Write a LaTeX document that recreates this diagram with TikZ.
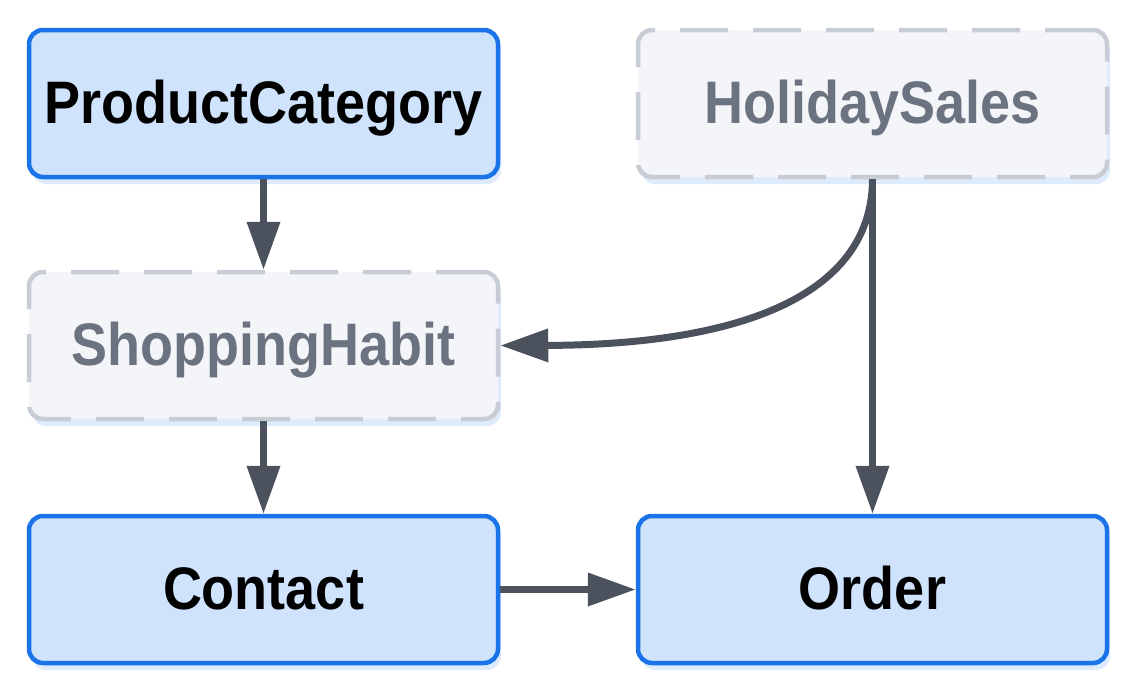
\documentclass[tikz,border=0pt]{standalone}
\usepackage{fontspec}
\setmainfont[FakeStretch=0.9]{Liberation Sans}
\usetikzlibrary{arrows.meta,shadows}
\definecolor{boxfill}{HTML}{CFE3FD}
\definecolor{boxline}{HTML}{1A73E8}
\definecolor{ghostfill}{HTML}{F3F5F8}
\definecolor{ghostline}{HTML}{C8CDD5}
\definecolor{ghosttext}{HTML}{6B7280}
\definecolor{arrowcol}{HTML}{4B525E}
\definecolor{shadowcol}{HTML}{D6E6FC}
\tikzset{
  base/.style={rounded corners=14pt, minimum width=469pt, minimum height=147pt, inner sep=0pt,
    line width=4.5pt, font=\fontsize{60}{66}\selectfont\bfseries, text height=39pt, text depth=0pt,
    drop shadow={shadow xshift=3pt, shadow yshift=-7pt, fill=shadowcol, opacity=0.8}},
  solidbox/.style={base, draw=boxline, fill=boxfill, text=black},
  ghostbox/.style={base, draw=ghostline, fill=ghostfill, text=ghosttext, dash pattern=on 48pt off 25pt},
  arr/.style={draw=arrowcol, line width=7pt, -{Triangle[length=48pt, width=32pt]}}
}
\begin{document}
\begin{tikzpicture}[x=1pt, y=-1pt]
\useasboundingbox (0,0) rectangle (1136,694);
\node[solidbox] (pc) at (263.5,103.5) {ProductCategory};
\node[ghostbox] (hs) at (872.5,103.5) {HolidaySales};
\node[ghostbox] (sh) at (263.5,345.5) {ShoppingHabit};
\node[solidbox] (ct) at (263.5,589.5) {Contact};
\node[solidbox] (or) at (872.5,589.5) {Order};
\draw[arr] (pc.south) -- (sh.north);
\draw[arr] (sh.south) -- (ct.north);
\draw[arr] (ct.east) -- (or.west);
\draw[arr] (hs.south) -- (or.north);
\draw[arr] (hs.south) .. controls (872,300) and (730,345) .. (sh.east);
\end{tikzpicture}
\end{document}
